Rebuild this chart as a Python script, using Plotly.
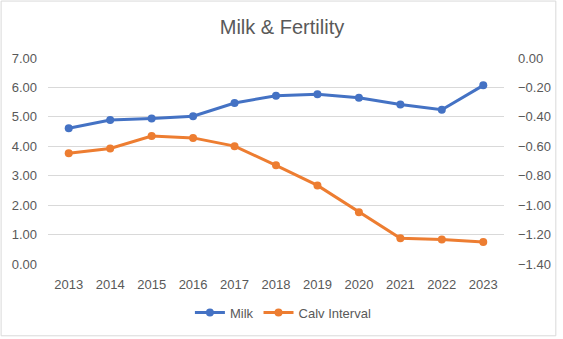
import plotly.graph_objects as go

years = ["2013", "2014", "2015", "2016", "2017", "2018", "2019", "2020", "2021", "2022", "2023"]
milk = [4.61, 4.89, 4.94, 5.02, 5.47, 5.72, 5.77, 5.65, 5.42, 5.24, 6.07]
calv_interval = [-0.648, -0.615, -0.530, -0.543, -0.599, -0.729, -0.866, -1.048, -1.225, -1.234, -1.250]

W, H = 563, 339
L, R, T, B = 48, 510, 58, 266
pw, ph = R - L, B - T

def px(x):
    return (x - L) / pw

def py(y):
    return (B - y) / ph

FONT = "Liberation Sans"
GRAY = "#595959"
GRID = "#d9d9d9"

fig = go.Figure()
fig.add_trace(go.Scatter(
    x=years, y=milk, name="Milk", mode="lines+markers",
    line=dict(color="#4472C4", width=3),
    marker=dict(color="#4472C4", size=8),
))
fig.add_trace(go.Scatter(
    x=years, y=calv_interval, name="Calv Interval", mode="lines+markers",
    yaxis="y2",
    line=dict(color="#ED7D31", width=3),
    marker=dict(color="#ED7D31", size=8),
))

fig.update_layout(
    width=W, height=H,
    margin=dict(l=L, r=W - R, t=T, b=H - B, pad=0),
    paper_bgcolor="white", plot_bgcolor="white",
    font=dict(family=FONT, size=13, color=GRAY),
    title=dict(text="Milk & Fertility", x=282 / W, xanchor="center",
               y=1 - 27 / H, yanchor="middle", xref="container", yref="container",
               font=dict(family=FONT, size=20, color=GRAY)),
    xaxis=dict(type="category", range=[-0.5, 10.5], showgrid=False,
               showline=False, ticks="", ticklabelstandoff=11,
               tickfont=dict(size=13, color=GRAY), fixedrange=True),
    yaxis=dict(range=[0, 7], dtick=1, tickformat=".2f", showgrid=True,
               gridcolor=GRID, gridwidth=1, zeroline=False, showline=False,
               ticks="", ticklabelstandoff=10, tickfont=dict(size=13, color=GRAY)),
    yaxis2=dict(range=[-1.4, 0], dtick=0.2, tickformat=".2f", overlaying="y",
                side="right", showgrid=False, zeroline=False, showline=False,
                ticks="", ticklabelstandoff=13, tickfont=dict(size=13, color=GRAY)),
    legend=dict(orientation="h", x=px(286), xanchor="center", y=py(315),
                yanchor="middle", font=dict(size=13, color=GRAY),
                bgcolor="rgba(0,0,0,0)", itemwidth=30, tracegroupgap=0),
    showlegend=True,
    shapes=[dict(type="rect", xref="paper", yref="paper",
                 x0=px(0.5), x1=px(W - 0.5), y0=py(H - 0.5), y1=py(0.5),
                 line=dict(color=GRID, width=1), fillcolor="rgba(0,0,0,0)",
                 layer="below")],
)

fig.write_html("out.html")
